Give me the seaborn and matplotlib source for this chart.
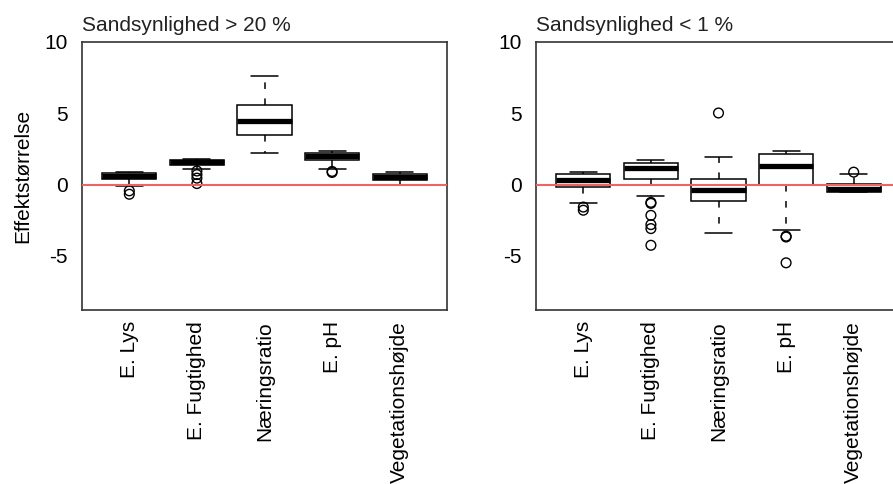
import matplotlib
matplotlib.use("Agg")
import matplotlib.pyplot as plt
import seaborn as sns
import pandas as pd

sns.set_theme(style="white")
plt.rcParams['font.family'] = ['Liberation Sans', 'DejaVu Sans']

categories = ["E. Lys", "E. Fugtighed", "Næringsratio", "E. pH", "Vegetationshøjde"]

# five-number summaries per category: [lower whisker, Q1, median, Q3, upper whisker]
high_lys = [-0.08, 0.36, 0.60, 0.78, 0.87]
high_fugt = [1.12, 1.40, 1.58, 1.74, 1.76]
high_naer = [2.19, 3.51, 4.49, 5.58, 7.58]
high_ph = [1.12, 1.72, 2.00, 2.23, 2.37]
high_veg = [0.00, 0.30, 0.56, 0.77, 0.88]

low_lys = [-1.28, -0.16, 0.35, 0.72, 0.88]
low_fugt = [-0.77, 0.40, 1.16, 1.51, 1.70]
low_naer = [-3.37, -1.16, -0.40, 0.40, 1.90]
low_ph = [-3.19, 0.00, 1.33, 2.12, 2.35]
low_veg = [-0.51, -0.51, -0.30, 0.05, 0.75]

# outliers
high_out_cat = ["E. Lys", "E. Lys", "E. Fugtighed", "E. Fugtighed", "E. Fugtighed", "E. Fugtighed",
                "E. pH", "E. pH"]
high_out_val = [-0.44, -0.68, 0.95, 0.70, 0.45, 0.07, 0.85, 0.92]

low_out_cat = ["E. Lys", "E. Lys", "E. Fugtighed", "E. Fugtighed", "E. Fugtighed", "E. Fugtighed",
               "E. Fugtighed", "E. Fugtighed", "Næringsratio", "E. pH", "E. pH", "E. pH",
               "Vegetationshøjde"]
low_out_val = [-1.58, -1.80, -1.25, -1.32, -2.16, -2.81, -3.09, -4.26, 5.02, -3.62, -3.68, -5.49, 0.87]

titles = ["Sandsynlighed > 20 %", "Sandsynlighed < 1 %"]
yticks = [-5, 0, 5, 10]
ytick_labels = ["-5", "0", "5", "10"]


def long_table(summaries):
    rows = []
    for cat, vals in zip(categories, summaries):
        for v in vals:
            rows.append({"cat": cat, "val": v})
    return pd.DataFrame(rows)


panels = [
    (long_table([high_lys, high_fugt, high_naer, high_ph, high_veg]),
     pd.DataFrame({"cat": high_out_cat, "val": high_out_val})),
    (long_table([low_lys, low_fugt, low_naer, low_ph, low_veg]),
     pd.DataFrame({"cat": low_out_cat, "val": low_out_val})),
]

W, H = 893, 484
fig = plt.figure(figsize=(W / 100, H / 100), dpi=100)
ax_rects = [
    [82 / W, (H - 310) / H, 365 / W, 268 / H],
    [536 / W, (H - 310) / H, 365 / W, 268 / H],
]

FS = 15
edge = "black"
for i, ((box_df, out_df), rect) in enumerate(zip(panels, ax_rects)):
    ax = fig.add_axes(rect)
    sns.boxplot(data=box_df, x="cat", y="val", order=categories, ax=ax,
                whis=(0, 100), width=0.8, showfliers=False, color="white",
                linecolor=edge, linewidth=1.1, capwidths=0.4,
                boxprops=dict(facecolor="white", edgecolor=edge, linewidth=1.1),
                whiskerprops=dict(color=edge, linewidth=1.1, linestyle=(0, (4.3, 6.2))),
                capprops=dict(color=edge, linewidth=1.1),
                medianprops=dict(color="black", linewidth=3.8, solid_capstyle="butt"))
    sns.stripplot(data=out_df, x="cat", y="val", order=categories, ax=ax,
                  jitter=False, marker="o", size=7.0, linewidth=1.0,
                  edgecolor="black", facecolor="none", zorder=4)
    ax.axhline(0, color="#EE6464", linewidth=1.5, zorder=5)
    ax.set_xlim(-0.7, 4.7)
    ax.set_ylim(-8.8, 10.0)
    ax.set_yticks(yticks)
    ax.set_yticklabels(ytick_labels)
    ax.set_xlabel("")
    ax.set_ylabel("")
    ax.tick_params(axis="both", direction="in", length=5, width=1.0, color="#333333",
                   labelsize=FS, labelcolor="black")
    ax.tick_params(axis="x", pad=8, labelrotation=90)
    ax.tick_params(axis="y", pad=10)
    for s in ax.spines.values():
        s.set_visible(True)
        s.set_color("#333333")
        s.set_linewidth(1.2)
    ax.set_title(titles[i], loc="left", fontsize=FS, pad=8, color="#222222")
    if i == 0:
        ax.set_ylabel("Effektstørrelse", fontsize=FS, labelpad=9, color="black")

fig.savefig("out.png", dpi=100)
